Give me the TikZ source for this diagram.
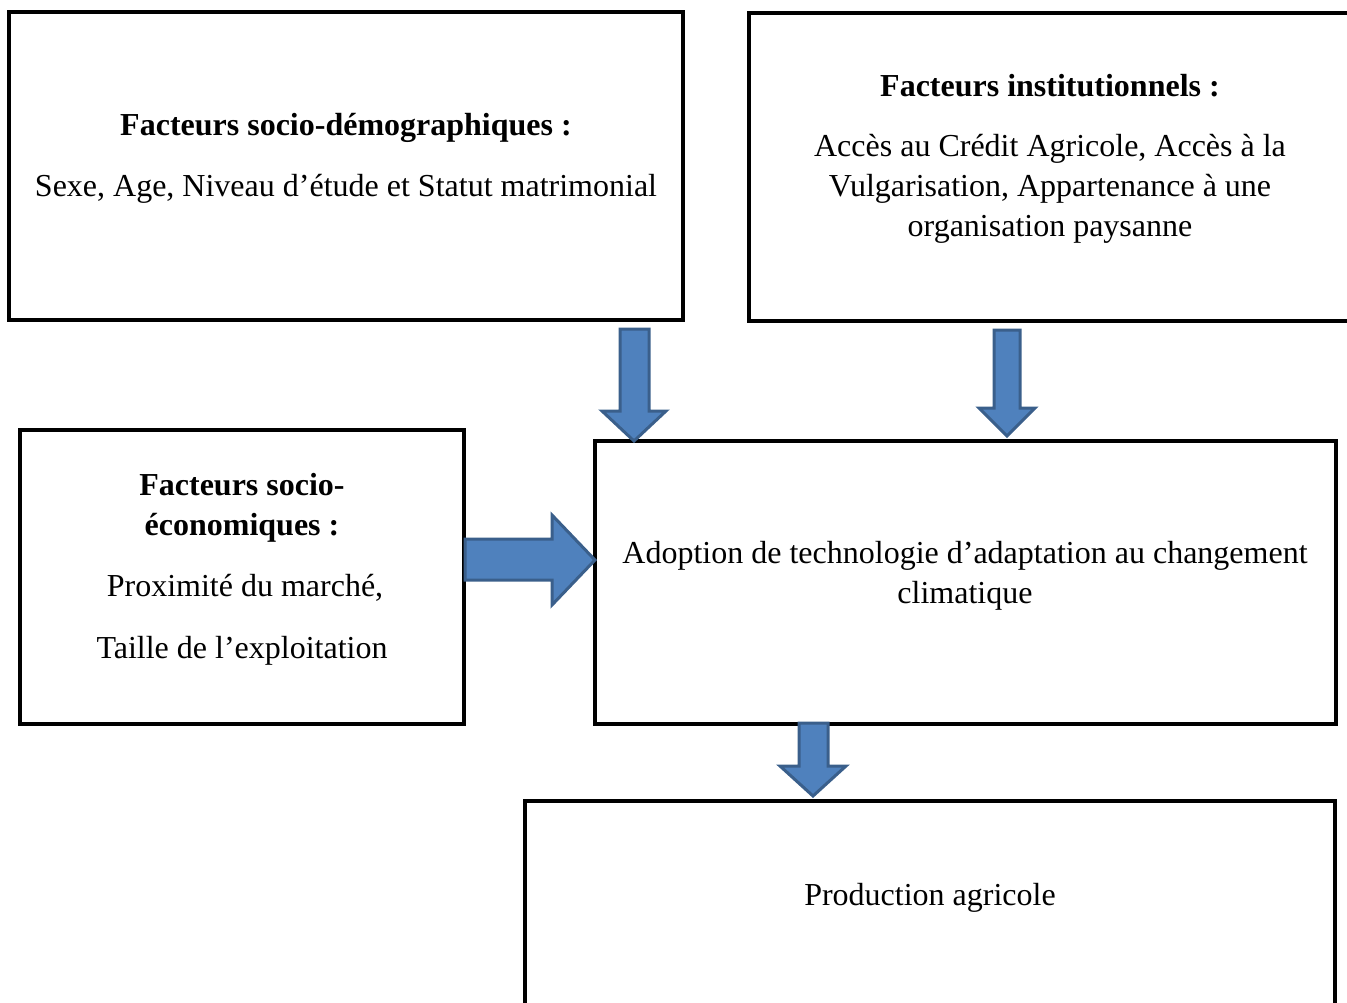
\documentclass[tikz,border=0pt]{standalone}
\usepackage{fontspec}
\setmainfont{Liberation Serif}
\definecolor{arrowfill}{HTML}{4F81BD}
\definecolor{arrowline}{HTML}{3A5F8B}
\begin{document}
\begin{tikzpicture}[x=1pt,y=-1pt,
  box/.style={draw=black,line width=4pt,inner sep=0pt,outer sep=0pt,anchor=north west},
  blk/.style={fill=arrowfill,draw=arrowline,line width=3pt,line join=miter},
  txt/.style={font=\fontsize{32}{40}\selectfont,align=center,inner sep=0pt}]
\useasboundingbox (0,0) rectangle (1347,1002);
\clip (0,0) rectangle (1347,1002);
% boxes
\node[box,minimum width=674pt,minimum height=308pt] (sd) at (9,12) {};
\node[box,minimum width=611pt,minimum height=308pt] (inst) at (749,13) {};
\node[box,minimum width=444pt,minimum height=294pt] (se) at (20,430) {};
\node[box,minimum width=741pt,minimum height=283pt] (adop) at (595,441) {};
\node[box,minimum width=810pt,minimum height=219pt] (prod) at (525,801) {};
% texts
\node[txt] (sdt) at (346,128) {\textbf{Facteurs socio-démographiques :}};
\node[txt] (sdb) at (346,189) {Sexe, Age, Niveau d’étude et Statut matrimonial};
\node[txt] (instt) at (1050,86) {\textbf{Facteurs institutionnels :}};
\node[txt] (instb) at (1050,189) {Accès au Crédit Agricole, Accès à la\\Vulgarisation, Appartenance à une\\organisation paysanne};
\node[txt] (set) at (242,508) {\textbf{Facteurs socio-}\\\textbf{économiques :}};
\node[txt] (seb1) at (245,588) {Proximité du marché,};
\node[txt] (seb2) at (242,651) {Taille de l’exploitation};
\node[txt] (adopt) at (965,576) {Adoption de technologie d’adaptation au changement\\climatique};
\node[txt] (prodt) at (930,898) {Production agricole};
% block arrows
\draw[blk] (620,329) -- (649,329) -- (649,411) -- (666,411) -- (634,441) -- (602,411) -- (620,411) -- cycle;
\draw[blk] (994,330) -- (1020,330) -- (1020,408) -- (1035,408) -- (1007,436) -- (979,408) -- (994,408) -- cycle;
\draw[blk] (465,539) -- (552,539) -- (552,515) -- (595,560) -- (552,605) -- (552,580) -- (465,580) -- cycle;
\draw[blk] (799,723) -- (828,723) -- (828,766) -- (846,766) -- (813,796) -- (780,766) -- (799,766) -- cycle;
\end{tikzpicture}
\end{document}
